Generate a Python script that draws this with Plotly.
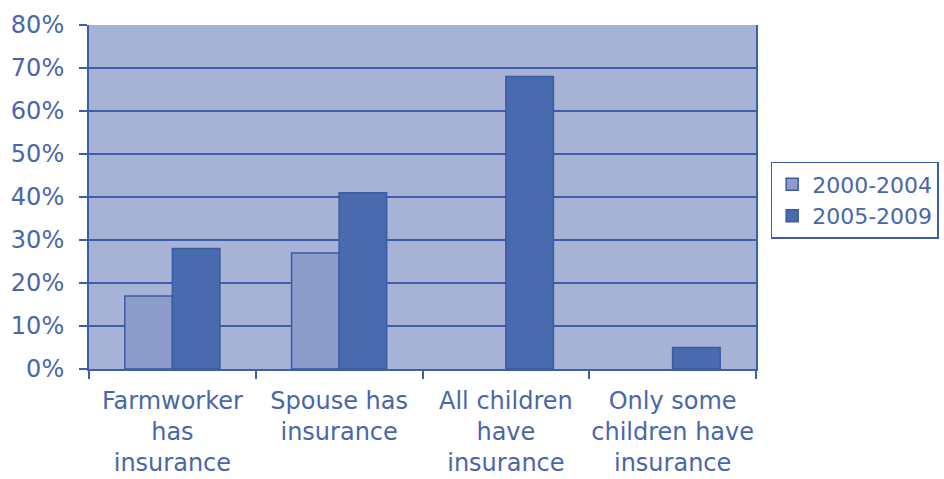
import plotly.graph_objects as go

categories = ["Farmworker<br>has<br>insurance", "Spouse has<br>insurance",
              "All children<br>have<br>insurance", "Only some<br>children have<br>insurance"]
series_names = ["2000-2004", "2005-2009"]
values_2000_2004 = [0.17, 0.27, None, None]
values_2005_2009 = [0.28, 0.41, 0.68, 0.05]
y_ticks = [0, 0.1, 0.2, 0.3, 0.4, 0.5, 0.6, 0.7, 0.8]

text_color = "#4A66AA"
line_color = "#3D5EA8"
font = dict(family="DejaVu Sans", size=24, color=text_color)

fig = go.Figure()
fig.add_trace(go.Bar(x=categories, y=values_2000_2004, name=series_names[0],
                     marker=dict(color="#8C9DCC", line=dict(color="#3A5AA3", width=1.5))))
fig.add_trace(go.Bar(x=categories, y=values_2005_2009, name=series_names[1],
                     marker=dict(color="#4A6AAE", line=dict(color="#3A5AA3", width=1.5))))

fig.update_layout(
    width=944, height=479,
    margin=dict(l=89, r=188, t=25, b=110, autoexpand=False),
    paper_bgcolor="white",
    plot_bgcolor="#A7B2D7",
    barmode="group",
    bargap=0.43,
    bargroupgap=0,
    font=font,
    showlegend=True,
    legend=dict(x=1.022, xanchor="left", y=0.49, yanchor="middle",
                bordercolor=line_color, borderwidth=1.5, bgcolor="white",
                font=dict(family="DejaVu Sans", size=22, color=text_color),
                itemwidth=30, tracegroupgap=4),
    xaxis=dict(showline=True, linecolor=line_color, linewidth=2,
               ticks="outside", tickson="boundaries", ticklen=8, tickwidth=2,
               tickcolor=line_color, showgrid=False, tickfont=font,
               tickangle=0, automargin=False, ticklabelstandoff=9),
    yaxis=dict(range=[0, 0.8], tickvals=y_ticks, tickformat=".0%",
               showline=True, mirror=True, linecolor=line_color, linewidth=2,
               ticks="outside", ticklen=8, tickwidth=2, tickcolor=line_color,
               showgrid=True, gridcolor=line_color, gridwidth=2,
               zeroline=False, tickfont=font, ticklabelstandoff=10,
               automargin=False),
)

fig.write_html("out.html")
